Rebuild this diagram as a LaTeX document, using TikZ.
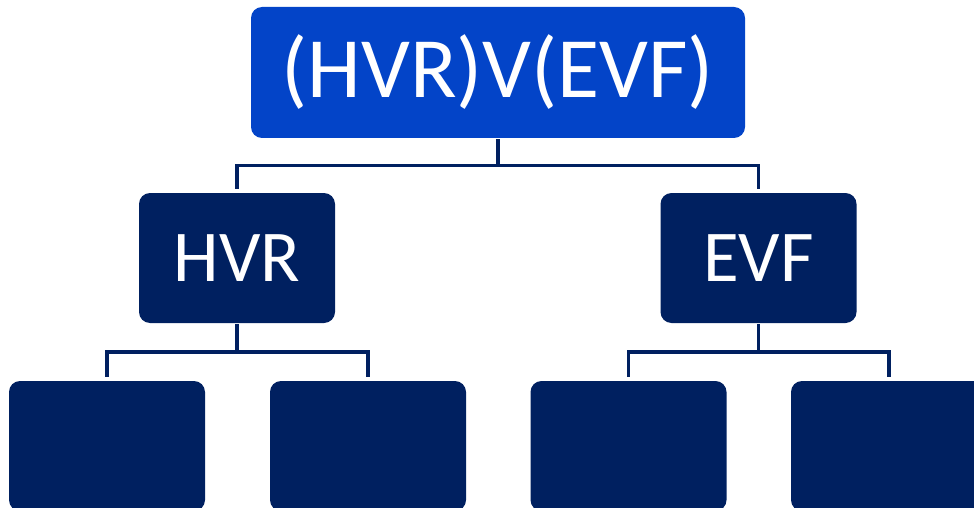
\documentclass[tikz,border=0pt]{standalone}
\usepackage{fontspec}
\setmainfont{Carlito}
\definecolor{royal}{HTML}{0344C8}
\definecolor{navy}{HTML}{002060}
\begin{document}
\begin{tikzpicture}[x=1pt,y=1pt,
  box/.style={rectangle, rounded corners=11pt, inner sep=0pt, text=white,
    font=\fontsize{73}{80}\selectfont},
  rootbox/.style={box, fill=royal, minimum width=494pt, minimum height=131pt,
    font=\fontsize{86}{92}\selectfont},
  midbox/.style={box, fill=navy, minimum width=196pt, minimum height=130pt},
  leafbox/.style={box, fill=navy, minimum width=196pt, minimum height=130pt},
  link/.style={draw=navy, line width=3.5pt, shorten <=1pt, shorten >=4pt}]
\useasboundingbox (0,0) rectangle (974,507);
\clip (0,0) rectangle (974,507);

% tree nodes
\node[rootbox] (root) at (498,434.5) {(HVR)V(EVF)};
\node[midbox] (hvr) at (237,249) {HVR};
\node[midbox] (evf) at (758.5,249) {EVF};
\node[leafbox] (h1) at (107,61) {};
\node[leafbox] (h2) at (368,61) {};
\node[leafbox] (e1) at (628.5,61) {};
\node[leafbox] (e2) at (889,61) {};

% elbow connectors
\draw[link] (root.south) -- ++(0,-27.5) -| (hvr.north);
\draw[link] (root.south) -- ++(0,-27.5) -| (evf.north);
\draw[link] (hvr.south) -- ++(0,-29) -| (h1.north);
\draw[link] (hvr.south) -- ++(0,-29) -| (h2.north);
\draw[link] (evf.south) -- ++(0,-29) -| (e1.north);
\draw[link] (evf.south) -- ++(0,-29) -| (e2.north);
\end{tikzpicture}
\end{document}
